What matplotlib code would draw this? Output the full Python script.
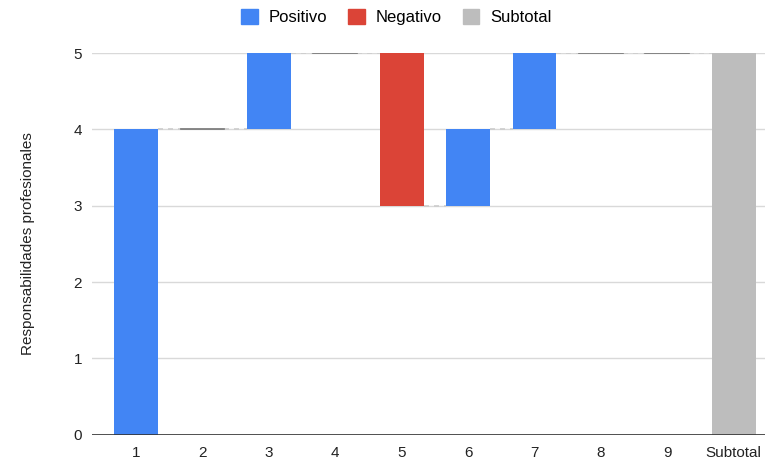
import matplotlib.pyplot as plt
from matplotlib.patches import Patch

plt.rcParams['font.family'] = ['Liberation Sans', 'DejaVu Sans']

# Datos del gráfico de cascada
categorias = ['1', '2', '3', '4', '5', '6', '7', '8', '9', 'Subtotal']
cambios = [4, 0, 1, 0, -2, 1, 1, 0, 0]
etiqueta_y = 'Responsabilidades profesionales'

azul = '#4285f4'
rojo = '#db4437'
gris = '#bdbdbd'

fig = plt.figure(figsize=(7.65, 4.65), dpi=100)
ax = fig.add_axes([0.120, 0.065, 0.880, 0.821])

ancho = 0.66
total = 0
niveles = []
for i, c in enumerate(cambios):
    inicio = total
    total += c
    niveles.append(total)
    if c == 0:
        ax.plot([i - ancho / 2, i + ancho / 2], [total, total], color='#757575', lw=1.2, zorder=3)
    else:
        ax.bar(i, c, bottom=inicio, width=ancho, color=azul if c > 0 else rojo, zorder=3)

# Subtotal
n = len(cambios)
ax.bar(n, total, width=ancho, color=gris, zorder=3)

# Conectores
for i, nivel in enumerate(niveles):
    ax.plot([i + ancho / 2, i + 1 - ancho / 2], [nivel, nivel], color='#cccccc', lw=1.2,
            ls=(0, (3, 3)), zorder=2)

ax.set_xlim(-0.666, n + 0.47)
ax.set_ylim(0, 5)
ax.set_yticks(range(6))
ax.set_xticks(range(len(categorias)))
ax.set_xticklabels(categorias)
ax.grid(axis='y', color='#d9d9d9', lw=1, zorder=0)
ax.axhline(0, color='#333333', lw=1.2, zorder=4)
for s in ax.spines.values():
    s.set_visible(False)
ax.tick_params(length=0, labelsize=11, colors='#222222')
ax.tick_params(axis='y', pad=7)
ax.tick_params(axis='x', pad=8)
ax.set_ylabel(etiqueta_y, fontsize=11, color='#222222')
ax.yaxis.set_label_coords(-0.085, 0.5)

handles = [Patch(color=azul, label='Positivo'), Patch(color=rojo, label='Negativo'),
           Patch(color=gris, label='Subtotal')]
fig.legend(handles=handles, loc='center', bbox_to_anchor=(0.518, 0.963), ncol=3, frameon=False,
           fontsize=12, handlelength=1.0, handleheight=1.0, columnspacing=1.25, handletextpad=0.66)

fig.savefig('out.png', dpi=100)
